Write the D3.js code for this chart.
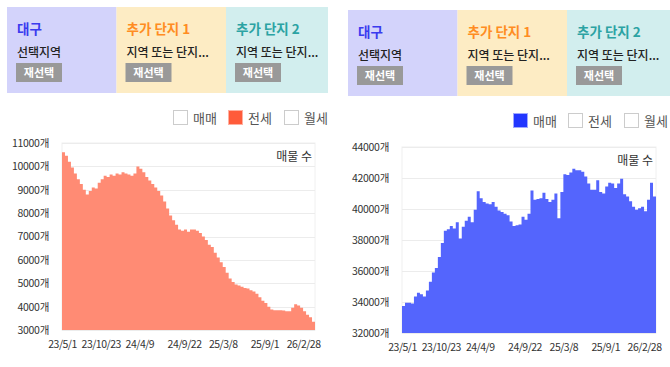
<!DOCTYPE html>
<html>
<head>
<meta charset="utf-8">
<script src="https://cdn.jsdelivr.net/npm/d3@7"></script>
<style>
  body { margin: 0; background: #fff; }
  svg text { font-family: "Noto Sans CJK KR", "Noto Sans", sans-serif; }
</style>
</head>
<body>
<div id="chart"></div>
<script>
// header boxes
var boxTitles = ["대구", "추가 단지 1", "추가 단지 2"];
var boxSubs = ["선택지역", "지역 또는 단지...", "지역 또는 단지..."];
var legendNames = ["매매", "전세", "월세"];

// x axis labels and the point index they sit on
var tickLabels = ["23/5/1", "23/10/23", "24/4/9", "24/9/22", "25/3/8", "25/9/1", "26/2/28"];
var tickIndex = [0, 13, 26, 41, 54, 68, 81];

// left chart: 전세 listings
var jeonseValues = [
    10600, 10450, 10200, 9950, 9700, 9450, 9250, 9000, 8800, 8950,
    9100, 9050, 9300, 9450, 9600, 9550, 9650, 9600, 9700, 9650,
    9750, 9700, 9650, 9600, 9700, 10000, 9900, 9750, 9550, 9400,
    9250, 9100, 8950, 8750, 8500, 8200, 7900, 7700, 7500, 7300,
    7250, 7300, 7200, 7300, 7300, 7250, 7150, 7000, 6850, 6650,
    6550, 6300, 6100, 5900, 5700, 5450, 5200, 5050, 4950, 4900,
    4850, 4800, 4780, 4700, 4650, 4550, 4400, 4250, 4150, 4000,
    3880, 3850, 3850, 3850, 3830, 3800, 3800, 3950, 4100, 4050,
    3950, 3800, 3650, 3550, 3350
];
var jeonseTicks = [3000, 4000, 5000, 6000, 7000, 8000, 9000, 10000, 11000];

// right chart: 매매 listings
var maemaeValues = [
    33750, 33950, 33950, 33900, 34350, 34600, 34500, 34350, 34750, 35300,
    35900, 36200, 36900, 37800, 38600, 38700, 38900, 38750, 39150, 38100,
    38850, 39250, 39500, 39150, 39950, 41150, 40700, 40450, 40350, 40300,
    40450, 40150, 39900, 39800, 39700, 39600, 39200, 38900, 38950, 39000,
    39500, 39300, 39700, 41200, 40600, 40650, 40700, 41050, 40650, 40450,
    40600, 41000, 39400, 41100, 42250, 42200, 42350, 42600, 42500, 42500,
    42400, 42100, 41650, 41250, 41250, 41850, 41100, 41000, 41450, 41700,
    41650, 41350, 41650, 41950, 40950, 40800, 40500, 40150, 39950, 40050,
    40150, 39850, 40600, 41700, 40800
];
var maemaeTicks = [32000, 34000, 36000, 38000, 40000, 42000, 44000];

var svg = d3.select("#chart").append("svg")
    .attr("width", 670)
    .attr("height", 367);

var boxFill = ["#d3d3fb", "#fdecc4", "#d2eeee"];
var titleColor = ["#3b3bef", "#ff8c22", "#2ba3a3"];

function drawHeader(ox, oy, clipW, id) {
    svg.append("clipPath").attr("id", id)
        .append("rect").attr("x", ox).attr("y", oy).attr("width", clipW).attr("height", 86);
    var g = svg.append("g").attr("clip-path", "url(#" + id + ")");
    var bw = 109.5;
    boxTitles.forEach(function (t, i) {
        var x = ox + i * bw;
        g.append("rect").attr("x", x).attr("y", oy).attr("width", bw).attr("height", 86)
            .attr("fill", boxFill[i]);
        g.append("text").attr("x", x + 10).attr("y", oy + 27)
            .attr("font-size", "13.5px").attr("font-weight", "bold")
            .attr("fill", titleColor[i]).text(t);
        g.append("text").attr("x", x + 10).attr("y", oy + 50)
            .attr("font-size", "12px").attr("font-weight", "500")
            .attr("fill", "#222").text(boxSubs[i]);
        g.append("rect").attr("x", x + 9).attr("y", oy + 56).attr("width", 46).attr("height", 19)
            .attr("fill", "#999");
        g.append("text").attr("x", x + 32).attr("y", oy + 70)
            .attr("text-anchor", "middle")
            .attr("font-size", "11px").attr("font-weight", "bold")
            .attr("fill", "#fff").text("재선택");
    });
}

function drawLegend(ox, oy, active, activeColor, activeStroke) {
    var offsets = [0, 55, 111];
    legendNames.forEach(function (n, i) {
        var x = ox + offsets[i];
        svg.append("rect").attr("x", x + 0.5).attr("y", oy - 7.5).attr("width", 14).attr("height", 14)
            .attr("fill", i === active ? activeColor : "#fff")
            .attr("stroke", i === active ? activeStroke : "#ccc");
        svg.append("text").attr("x", x + 20).attr("y", oy + 5)
            .attr("font-size", "13px").attr("fill", "#555").text(n);
    });
}

function drawChart(opt) {
    var x = d3.scaleLinear().domain([0, opt.values.length]).range([opt.x0, opt.x1]);
    var y = d3.scaleLinear().domain(opt.domain).range([opt.y1, opt.y0]);
    var g = svg.append("g");

    g.append("rect").attr("x", opt.x0).attr("y", opt.y0)
        .attr("width", opt.x1 - opt.x0).attr("height", opt.y1 - opt.y0)
        .attr("fill", "none").attr("stroke", "#f0f0f0");

    g.selectAll(".grid").data(opt.ticks).enter().append("line")
        .attr("x1", opt.x0).attr("x2", opt.x1)
        .attr("y1", function (d) { return Math.round(y(d)) + 0.5; })
        .attr("y2", function (d) { return Math.round(y(d)) + 0.5; })
        .attr("stroke", "#ececec");

    var pts = opt.values.map(function (v, i) { return [i, v]; });
    pts.push([opt.values.length, opt.values[opt.values.length - 1]]);

    var area = d3.area()
        .curve(d3.curveStepAfter)
        .x(function (d) { return x(d[0]); })
        .y0(y(opt.domain[0]))
        .y1(function (d) { return y(d[1]); });

    g.append("path").datum(pts).attr("d", area).attr("fill", opt.fill);

    var yAxis = d3.axisLeft(y).tickValues(opt.ticks).tickSize(0).tickPadding(13)
        .tickFormat(function (d) { return d + "개"; });
    g.append("g").attr("transform", "translate(" + opt.x0 + ",0)").call(yAxis)
        .call(function (a) {
            a.select(".domain").remove();
            a.selectAll("text").attr("font-size", "10.5px").attr("fill", "#333")
                .attr("letter-spacing", "-0.3px")
                .attr("font-family", "\"Noto Sans CJK KR\", sans-serif");
        });

    var xAxis = d3.axisBottom(x).tickValues(tickIndex).tickSize(0).tickPadding(11)
        .tickFormat(function (d, i) { return tickLabels[i]; });
    g.append("g").attr("transform", "translate(0," + opt.y1 + ")").call(xAxis)
        .call(function (a) {
            a.select(".domain").remove();
            a.selectAll("text").attr("font-size", "10.5px").attr("fill", "#333")
                .attr("letter-spacing", "-0.5px")
                .attr("font-family", "\"Noto Sans CJK KR\", sans-serif");
        });

    g.append("text").attr("x", opt.x1 - 3).attr("y", opt.y0 + 18)
        .attr("text-anchor", "end").attr("font-size", "12px").attr("fill", "#333")
        .text("매물 수");
}

drawHeader(7, 7, 321, "clipL");
drawHeader(348, 10, 322, "clipR");

drawLegend(173, 118, 1, "#ff5b3a", "#ffb0a0");
drawLegend(513, 121, 0, "#2236ff", "#a0a8ff");

drawChart({
    values: jeonseValues, domain: [3000, 11000], ticks: jeonseTicks,
    x0: 62, x1: 315, y0: 143, y1: 330, fill: "#ff8b74"
});
drawChart({
    values: maemaeValues, domain: [32000, 44000], ticks: maemaeTicks,
    x0: 402, x1: 656, y0: 147, y1: 333, fill: "#5465fd"
});
</script>
</body>
</html>
